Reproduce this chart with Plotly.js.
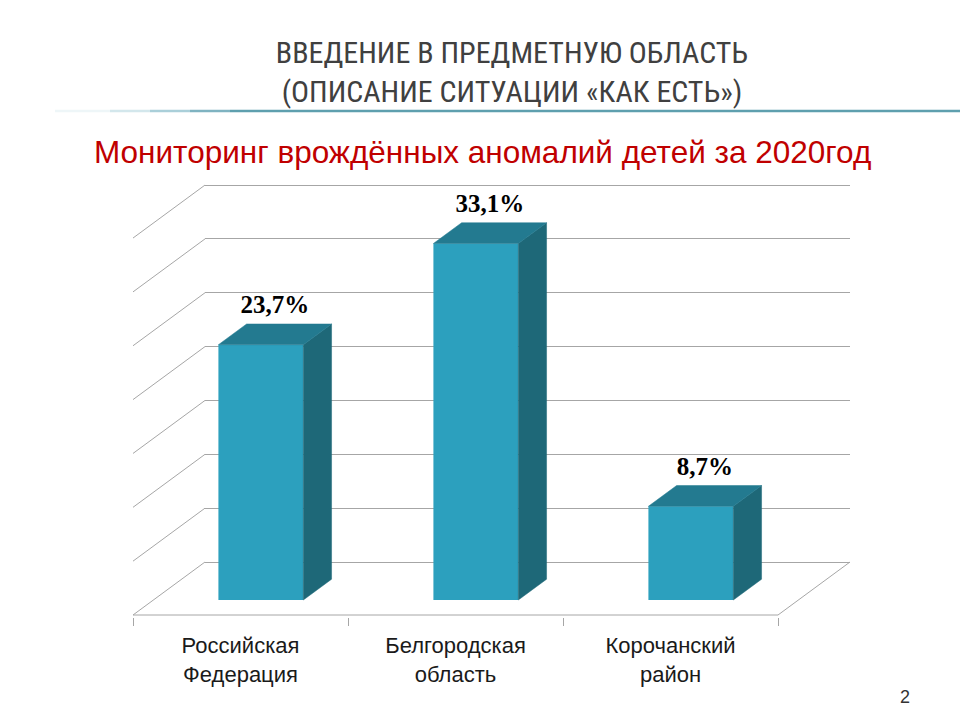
<!DOCTYPE html>
<html>
<head>
<meta charset="utf-8">
<script src="https://cdn.plot.ly/plotly-3.0.1.min.js"></script>
<style>html,body{margin:0;padding:0;background:#fff;}#chart{width:960px;height:720px;}</style>
</head>
<body>
<div id="chart"></div>
<script>
// ---- data ----
const categories = ['Российская<br>Федерация', 'Белгородская<br>область', 'Корочанский<br>район'];
const values = [23.7, 33.1, 8.7];
const gridValues = [0, 5, 10, 15, 20, 25, 30, 35];
const valueLabels = values.map(v => v.toFixed(1).replace('.', ',') + '%');

// ---- geometry (oblique 3D projection) ----
const SLOT_PX = 215, UNIT_PX = 10.77, DEPTH_X_PX = 72, DEPTH_Y_PX = 53;
const LEFT = 133, FLOOR_Y = 615, TOP = 175, BOTTOM = 617;
const N = categories.length;
const DX = DEPTH_X_PX / SLOT_PX, DY = DEPTH_Y_PX / UNIT_PX;
const W = N * SLOT_PX + DEPTH_X_PX;
const H = BOTTOM - TOP;
const yMin = (FLOOR_Y - BOTTOM) / UNIT_PX, yMax = (FLOOR_Y - TOP) / UNIT_PX;
const BW = 0.395, dF = 0.283, dD = 0.392;
const bx = DX * dD, by = DY * dD;
const base = dF * DY;
const px2paperX = p => (p - LEFT) / W;
const px2paperY = p => (BOTTOM - p) / H;

const FRONT = '#2ca0be', SIDE = '#1e6878', TOPC = '#237a90', GRID = '#a6a6a6';

const traces = [];
// placeholder for grid subplot
traces.push({x: [], y: [], type: 'scatter', xaxis: 'x', yaxis: 'y', hoverinfo: 'skip', showlegend: false});

// left wall diagonals + floor
const lx = [], ly = [];
gridValues.forEach(g => { lx.push(0, DX, null); ly.push(g, g + DY, null); });
traces.push({x: lx, y: ly, type: 'scatter', mode: 'lines', xaxis: 'x2', yaxis: 'y2',
  line: {color: GRID, width: 1}, hoverinfo: 'skip', showlegend: false});
traces.push({x: [0, N, N + DX], y: [0, 0, DY], type: 'scatter', mode: 'lines', xaxis: 'x2', yaxis: 'y2',
  line: {color: GRID, width: 1}, hoverinfo: 'skip', showlegend: false});

// front faces
const centers = values.map((v, i) => i + 0.5 + dF * DX);
traces.push({type: 'bar', x: centers, y: values, base: values.map(() => base), width: BW,
  xaxis: 'x2', yaxis: 'y2', marker: {color: FRONT, line: {width: 0}}, hoverinfo: 'skip', showlegend: false});

// side and top faces
values.forEach((v, i) => {
  const xr = centers[i] + BW / 2, xl = centers[i] - BW / 2;
  traces.push({type: 'scatter', mode: 'lines', fill: 'toself', fillcolor: SIDE,
    x: [xr, xr, xr + bx, xr + bx, xr], y: [base, base + v, base + v + by, base + by, base],
    line: {color: SIDE, width: 0.5}, xaxis: 'x2', yaxis: 'y2', hoverinfo: 'skip', showlegend: false});
  traces.push({type: 'scatter', mode: 'lines', fill: 'toself', fillcolor: TOPC,
    x: [xl, xr, xr + bx, xl + bx, xl], y: [base + v, base + v, base + v + by, base + v + by, base + v],
    line: {color: TOPC, width: 0.5}, xaxis: 'x2', yaxis: 'y2', hoverinfo: 'skip', showlegend: false});
});

// value labels
traces.push({type: 'scatter', mode: 'text', x: centers.map(c => c + bx / 2),
  y: values.map(v => base + v + by + 0.4), text: valueLabels, textposition: 'top center',
  textfont: {family: 'Liberation Serif, Times New Roman, serif', size: 25, color: '#000', weight: 'bold'},
  xaxis: 'x2', yaxis: 'y2', hoverinfo: 'skip', showlegend: false, cliponaxis: false});

const layout = {
  width: 960, height: 720,
  margin: {l: LEFT, r: 960 - LEFT - W, t: TOP, b: 720 - BOTTOM, pad: 0},
  paper_bgcolor: '#fff', plot_bgcolor: 'rgba(0,0,0,0)',
  showlegend: false,
  font: {family: 'Liberation Sans, Arial, sans-serif'},
  title: {text: 'ВВЕДЕНИЕ В ПРЕДМЕТНУЮ ОБЛАСТЬ<br>(ОПИСАНИЕ СИТУАЦИИ «КАК ЕСТЬ»)',
    x: 512 / 960, xref: 'container', xanchor: 'center', y: 1 - 63 / 720, yref: 'container', yanchor: 'middle',
    font: {family: 'Liberation Sans Narrow, Roboto Condensed, DejaVu Sans Condensed, Arial Narrow, Liberation Sans, sans-serif', size: 30, color: '#404040'}},
  xaxis: {domain: [DX / (N + DX), 1], range: [0, N], anchor: 'y', visible: false, fixedrange: true},
  yaxis: {domain: [0, 1], range: [yMin - DY, yMax - DY], anchor: 'x', tickmode: 'array', tickvals: gridValues,
    showticklabels: false, ticks: '', showgrid: true, gridcolor: GRID, gridwidth: 1, zeroline: false, showline: false, fixedrange: true},
  xaxis2: {domain: [0, 1], range: [0, N + DX], anchor: 'y2', tickmode: 'array', tickvals: categories.map((c, i) => i + 0.5),
    ticktext: categories, ticks: '', showgrid: false, zeroline: false, showline: false, ticklabelstandoff: 13,
    tickfont: {family: 'Liberation Sans, Arial, sans-serif', size: 22, color: '#1a1a1a'},
    minor: {tickmode: 'array', tickvals: [0, 1, 2, 3], ticks: 'outside', ticklen: 8, tickcolor: GRID, tickwidth: 1, showgrid: false},
    fixedrange: true},
  yaxis2: {domain: [0, 1], range: [yMin, yMax], anchor: 'x2', visible: false, fixedrange: true},
  annotations: [
    {text: 'Мониторинг врождённых аномалий детей за 2020год', xref: 'paper', yref: 'paper',
      x: px2paperX(482), y: px2paperY(152), xanchor: 'center', yanchor: 'middle', showarrow: false,
      font: {family: 'Liberation Sans, Arial, sans-serif', size: 31.5, color: '#c00000'}},
    {text: '2', xref: 'paper', yref: 'paper', x: px2paperX(905), y: px2paperY(697), xanchor: 'center', yanchor: 'middle',
      showarrow: false, font: {family: 'Liberation Sans, Arial, sans-serif', size: 18, color: '#333'}}
  ],
  shapes: [
    ['#eef6f8', 55, 110], ['#d3e7ec', 110, 150], ['#aacfd9', 150, 190], ['#7fb3c1', 190, 230], ['#5e9fae', 230, 960]
  ].map(s => ({type: 'line', xref: 'paper', yref: 'paper', x0: px2paperX(s[1]), x1: px2paperX(s[2]),
    y0: px2paperY(111), y1: px2paperY(111), line: {color: s[0], width: 2.5}}))
};

Plotly.newPlot('chart', traces, layout, {staticPlot: true, displayModeBar: false});
</script>
</body>
</html>
